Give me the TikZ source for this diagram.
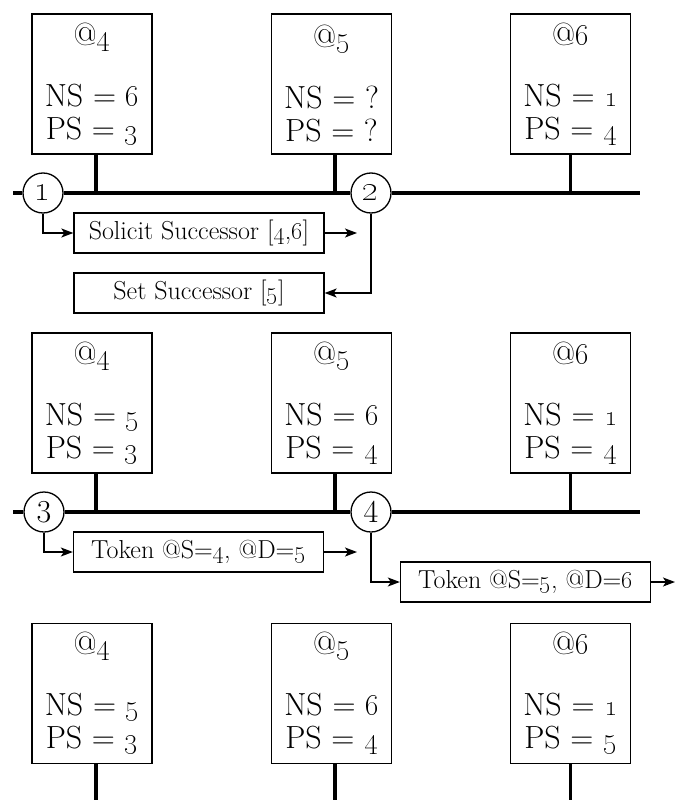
\documentclass[tikz,border=0pt]{standalone}
\usetikzlibrary{arrows.meta,positioning}
\newcommand{\os}[1]{\oldstylenums{#1}}
\tikzset{
  station/.style={draw, line width=1.5pt, minimum width=120pt, minimum height=140pt,
    align=center, font=\fontsize{32}{33}\selectfont},
  msgbox/.style={draw, line width=1.3pt, minimum width=250pt, minimum height=40pt,
    inner sep=0pt, font=\fontsize{26}{28}\selectfont},
  marker/.style={circle, draw, line width=1.3pt, fill=white, minimum size=40pt,
    inner sep=0pt, font=\fontsize{32}{32}\selectfont},
  bus/.style={line width=3.5pt},
  msg/.style={line width=1.3pt, -{Stealth[length=12pt,width=9pt,inset=3pt]}},
}
\begin{document}
\begin{tikzpicture}[x=1pt, y=-1pt]
  \useasboundingbox (0,0) rectangle (675,800);
  % round 1: solicit successor
  \node (n4a) [station] at (92,84) {@\os{4}\\[28pt]NS = \os{6}\\PS = \os{3}};
  \node (n5a) [station] at (331.5,84) {@\os{5}\\[28pt]NS = ?\\PS = ?};
  \node (n6a) [station] at (570.5,84) {@\os{6}\\[28pt]NS = \os{1}\\PS = \os{4}};
  \node (m1) [marker] at (43,193) {\fontsize{38}{38}\selectfont\textbf{\os{1}}};
  \node (m2) [marker] at (371,193) {\fontsize{38}{38}\selectfont\textbf{\os{2}}};
  \coordinate (busa-l) at (13,193);
  \coordinate (busa-r) at (640,193);
  \draw [bus] (busa-l) -- (m1) -- (m2) -- (busa-r);
  \draw [bus] ([xshift=4pt]n4a.south) -- ([xshift=4pt]n4a.south |- busa-l);
  \draw [bus] ([xshift=3.5pt]n5a.south) -- ([xshift=3.5pt]n5a.south |- busa-l);
  \draw [bus] (n6a) -- (n6a |- busa-l);
  \node (solicit) [msgbox] at (199,233) {Solicit Successor [\os{4},\os{6}]};
  \node (setsucc) [msgbox] at (199,293) {Set Successor [\os{5}]};
  \coordinate (solicit-out) at (357,233);
  \draw [msg] (m1) |- (solicit);
  \draw [msg] (solicit) -- (solicit-out);
  \draw [msg] (m2) |- (setsucc);
  % round 2: token passing
  \node (n4b) [station] at (92,403) {@\os{4}\\[28pt]NS = \os{5}\\PS = \os{3}};
  \node (n5b) [station] at (331.5,403) {@\os{5}\\[28pt]NS = \os{6}\\PS = \os{4}};
  \node (n6b) [station] at (570.5,403) {@\os{6}\\[28pt]NS = \os{1}\\PS = \os{4}};
  \node (m3) [marker] at (44,512) {3};
  \node (m4) [marker] at (371,512) {4};
  \coordinate (busb-l) at (13,512);
  \coordinate (busb-r) at (640,512);
  \draw [bus] (busb-l) -- (m3) -- (m4) -- (busb-r);
  \draw [bus] ([xshift=4pt]n4b.south) -- ([xshift=4pt]n4b.south |- busb-l);
  \draw [bus] ([xshift=3.5pt]n5b.south) -- ([xshift=3.5pt]n5b.south |- busb-l);
  \draw [bus] (n6b) -- (n6b |- busb-l);
  \node (tok1) [msgbox] at (198.5,552) {Token @S=\os{4}, @D=\os{5}};
  \node (tok2) [msgbox] at (525.5,582) {Token @S=\os{5}, @D=\os{6}};
  \coordinate (tok1-out) at (357,552);
  \coordinate (tok2-out) at (675,582);
  \draw [msg] (m3) |- (tok1);
  \draw [msg] (tok1) -- (tok1-out);
  \draw [msg] (m4) |- (tok2);
  \draw [msg] (tok2) -- (tok2-out);
  % round 3
  \node (n4c) [station] at (92,693.5) {@\os{4}\\[28pt]NS = \os{5}\\PS = \os{3}};
  \node (n5c) [station] at (331.5,693.5) {@\os{5}\\[28pt]NS = \os{6}\\PS = \os{4}};
  \node (n6c) [station] at (570.5,693.5) {@\os{6}\\[28pt]NS = \os{1}\\PS = \os{5}};
  \draw [bus] ([xshift=4pt]n4c.south) -- ([xshift=4pt]n4c.south |- 0,800);
  \draw [bus] ([xshift=3.5pt]n5c.south) -- ([xshift=3.5pt]n5c.south |- 0,800);
  \draw [bus] (n6c) -- (n6c |- 0,800);
\end{tikzpicture}
\end{document}
